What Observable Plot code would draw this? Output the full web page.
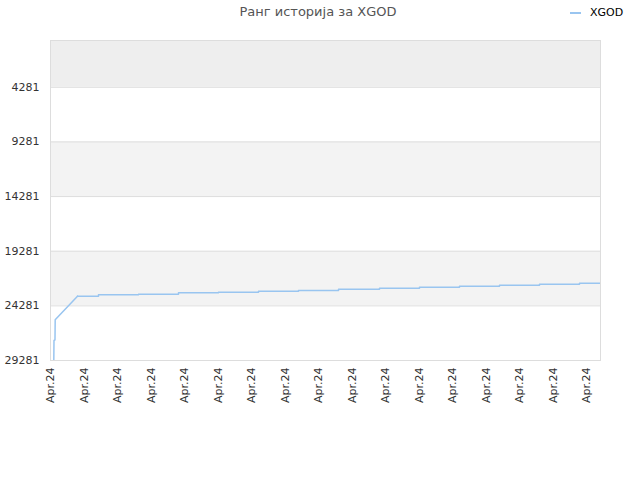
<!DOCTYPE html>
<html>
<head>
<meta charset="utf-8">
<script src="https://cdn.jsdelivr.net/npm/d3@7"></script>
<script src="https://cdn.jsdelivr.net/npm/@observablehq/plot@0.6"></script>
<style>
  body { margin: 0; background: #fff; font-family: "DejaVu Sans", sans-serif; }
  #wrap { position: relative; width: 640px; height: 480px; }
  #head { position: relative; width: 640px; height: 30px; }
  #title { position: absolute; left: 0; width: 636px; top: 4px; text-align: center; font-size: 13px; color: #555; }
  #legend { position: absolute; left: 570px; top: 6px; font-size: 11px; color: #000; display: flex; align-items: center; }
  #legend .sw { width: 11px; height: 2px; background: #99c5f0; margin-right: 9px; }
</style>
</head>
<body>
<div id="wrap">
  <div id="head">
    <div id="title">Ранг историја за XGOD</div>
    <div id="legend"><span class="sw"></span><span>XGOD</span></div>
  </div>
  <div id="chart"></div>
</div>
<script>
// Data
const seriesName = "XGOD";
const earlyTimes = ["2024-04-01T02:22Z", "2024-04-01T02:30Z", "2024-04-01T03:13Z", "2024-04-01T03:22Z", "2024-04-01T19:20Z"];
const earlyRanks = [29281, 27450, 27400, 25554, 23393];
const stepTimes = [
  "2024-04-01T19:20Z", "2024-04-02T10:23Z", "2024-04-03T15:03Z", "2024-04-04T19:42Z",
  "2024-04-06T00:21Z", "2024-04-07T05:01Z", "2024-04-08T09:40Z", "2024-04-09T14:20Z",
  "2024-04-10T19:42Z", "2024-04-12T00:21Z", "2024-04-13T05:01Z", "2024-04-14T09:40Z",
  "2024-04-15T14:20Z", "2024-04-16T18:59Z", "2024-04-17T10:02Z"
];
const stepRanks = [
  23393, 23264, 23209, 23081,
  23026, 22934, 22870, 22751,
  22660, 22568, 22476, 22385,
  22293, 22202, 22202
];
const yTicks = [4281, 9281, 14281, 19281, 24281, 29281];
const bandStarts = [0, 4281, 9281, 14281, 19281, 24281];
const bandEnds = [4281, 9281, 14281, 19281, 24281, 29281];
const bandFills = ["#eeeeee", "#ffffff", "#f3f3f3", "#ffffff", "#f3f3f3", "#ffffff"];
const xStart = "2024-04-01T00:00Z";
const xEnd = "2024-04-17T10:02Z";
const xTickLabel = "Apr.24";

const early = earlyTimes.map((t, i) => ({date: new Date(t), rank: earlyRanks[i]}));
const steps = stepTimes.map((t, i) => ({date: new Date(t), rank: stepRanks[i]}));
const bands = bandStarts.map((s, i) => ({y1: s, y2: bandEnds[i], fill: bandFills[i]}));
const xTicks = d3.utcDay.range(new Date(xStart), new Date(xEnd));

const chart = Plot.plot({
  width: 640,
  height: 450,
  marginTop: 10,
  marginLeft: 50,
  marginRight: 40,
  marginBottom: 120,
  style: {fontFamily: "DejaVu Sans, sans-serif", fontSize: "11px", color: "#333", background: "#fff"},
  x: {type: "utc", domain: [new Date(xStart), new Date(xEnd)]},
  y: {domain: [0, 29281], reverse: true},
  marks: [
    Plot.rectY(bands, {x1: new Date(xStart), x2: new Date(xEnd), y1: "y1", y2: "y2", fill: "fill"}),
    Plot.ruleY(yTicks, {stroke: "#dddddd", strokeWidth: 1}),
    Plot.frame({stroke: "#dddddd"}),
    Plot.axisY({ticks: yTicks, tickSize: 0, tickPadding: 11, tickFormat: d => String(d), fill: "#333"}),
    Plot.axisX({ticks: xTicks, tickSize: 0, tickPadding: 7, tickRotate: -90, tickFormat: () => xTickLabel, fill: "#333"}),
    Plot.lineY(early, {x: "date", y: "rank", stroke: "#99c5f0", strokeWidth: 1.5, clip: true}),
    Plot.lineY(steps, {x: "date", y: "rank", stroke: "#99c5f0", strokeWidth: 1.5, curve: "step-after", clip: true})
  ]
});
document.getElementById("chart").appendChild(chart);
</script>
</body>
</html>
